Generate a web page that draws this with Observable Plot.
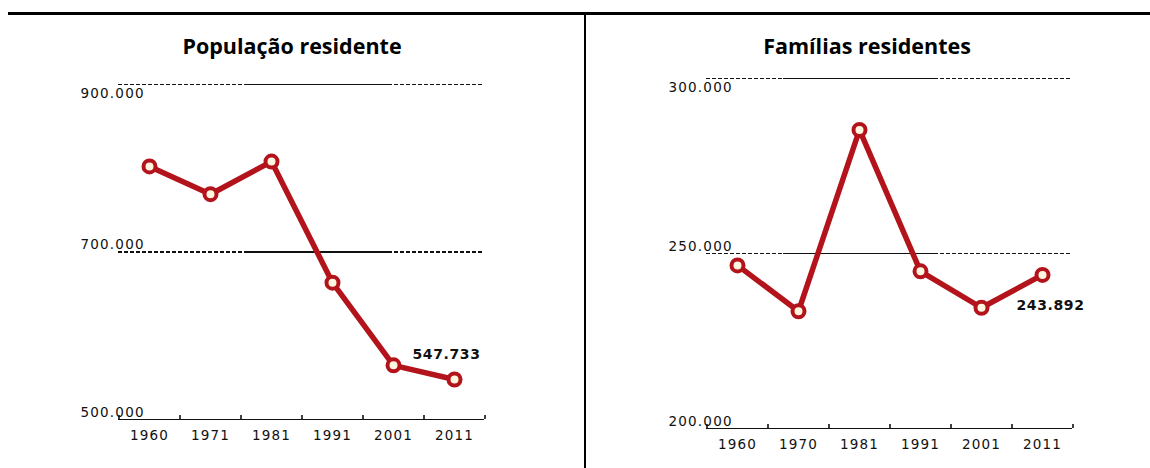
<!DOCTYPE html>
<html><head><meta charset="utf-8">
<script src="https://cdn.jsdelivr.net/npm/d3@7"></script>
<script src="https://cdn.jsdelivr.net/npm/@observablehq/plot@0.6"></script>
<style>
body{margin:0;background:#fff;}
#wrap{position:relative;width:1150px;height:468px;overflow:hidden;background:#fff;}
#topline{position:absolute;left:8px;right:0;top:12px;height:3px;background:#000;}
#vline{position:absolute;left:584px;top:12px;bottom:0;width:2px;background:#000;}
.panel{position:absolute;top:0;height:468px;}
.title{position:absolute;top:32px;left:0;right:0;text-align:center;font:700 21.5px "Open Sans";line-height:28px;color:#000;}
svg text{letter-spacing:1.2px;}
g[font-weight="bold"] text{letter-spacing:0.6px;}
</style></head>
<body>
<div id="wrap">
  <div id="p1" class="panel" style="left:0;width:584px"><div class="title" id="t1"></div></div>
  <div id="p2" class="panel" style="left:584px;width:566px"><div class="title" id="t2"></div></div>
  <div id="topline"></div>
  <div id="vline"></div>
</div>
<script>
// ---- data ----
const popTitle = "População residente";
const popYears = ["1960", "1971", "1981", "1991", "2001", "2011"];
const popValues = [802230, 769000, 807937, 663394, 564657, 547733];
const popTicks = [500000, 700000, 900000];
const popLabel = "547.733";

const famTitle = "Famílias residentes";
const famYears = ["1960", "1970", "1981", "1991", "2001", "2011"];
const famValues = [246600, 233500, 285300, 244900, 234500, 243892];
const famTicks = [200000, 250000, 300000];
const famLabel = "243.892";

const pt = d3.formatLocale({decimal: ",", thousands: ".", grouping: [3], currency: ["€", ""]});
const fmt = pt.format(",");

const RED = "#b3141c";
const INK = "#111";

function panel({years, values, ticks, label, width, height, mt, mb, ml, mr, solidL, solidR, labDx, labDy}) {
  const data = years.map((y, i) => ({year: y, value: values[i]}));
  const step = (width - ml - mr) / years.length;
  const plotH = height - mt - mb;
  const last = data[data.length - 1];
  return Plot.plot({
    width, height,
    marginTop: mt, marginBottom: mb, marginLeft: ml, marginRight: mr,
    style: {fontFamily: "DejaVu Sans", fontSize: "13.5px", color: INK, background: "transparent"},
    x: {type: "point", domain: years, padding: 0.5, axis: null},
    y: {domain: [ticks[0], ticks[ticks.length - 1]], axis: null},
    marks: [
      // dashed gridlines
      Plot.ruleY(ticks.slice(1), {stroke: INK, strokeWidth: 1.4, strokeDasharray: "4,2", shapeRendering: "crispEdges"}),
      // solid middle portion of gridlines
      Plot.ruleY(ticks.slice(1), {stroke: INK, strokeWidth: 1.4, insetLeft: solidL, insetRight: solidR, shapeRendering: "crispEdges"}),
      // baseline axis
      Plot.ruleY([ticks[0]], {stroke: INK, strokeWidth: 1.6, shapeRendering: "crispEdges"}),
      // tick marks at category boundaries
      Plot.ruleX(years, {x: d => d, dx: -step / 2, stroke: INK, strokeWidth: 1.6, insetTop: plotH - 4}),
      Plot.ruleX([years[years.length - 1]], {x: d => d, dx: step / 2, stroke: INK, strokeWidth: 1.6, insetTop: plotH - 4}),
      // year labels
      Plot.text(years, {x: d => d, text: d => d, frameAnchor: "bottom", lineAnchor: "top", dy: 11, fill: INK}),
      // y labels
      Plot.text(ticks.slice(-1), {y: d => d, text: d => fmt(d), frameAnchor: "left", textAnchor: "start", lineAnchor: "top", dx: -38, dy: 4, fill: INK}),
      Plot.text(ticks.slice(0, -1), {y: d => d, text: d => fmt(d), frameAnchor: "left", textAnchor: "start", lineAnchor: "bottom", dx: -38, dy: -3, fill: INK}),
      // series
      Plot.line(data, {x: "year", y: "value", stroke: RED, strokeWidth: 5.5, strokeLinejoin: "round"}),
      Plot.dot(data, {x: "year", y: "value", r: 6, stroke: RED, strokeWidth: 4, fill: "#fff6e0"}),
      Plot.text([last], {x: "year", y: "value", text: () => label, dx: labDx, dy: labDy, fontWeight: "bold", fontSize: 14, fill: INK})
    ]
  });
}

document.getElementById("t1").textContent = popTitle;
document.getElementById("t2").textContent = famTitle;

document.getElementById("p1").appendChild(panel({
  years: popYears, values: popValues, ticks: popTicks, label: popLabel,
  width: 584, height: 468, mt: 84, mb: 49, ml: 118, mr: 100,
  solidL: 127, solidR: 94, labDx: -8, labDy: -25
}));
document.getElementById("p2").appendChild(panel({
  years: famYears, values: famValues, ticks: famTicks, label: famLabel,
  width: 566, height: 468, mt: 78, mb: 40, ml: 122, mr: 78,
  solidL: 77, solidR: 135, labDx: 8, labDy: 31
}));
</script>
</body></html>
